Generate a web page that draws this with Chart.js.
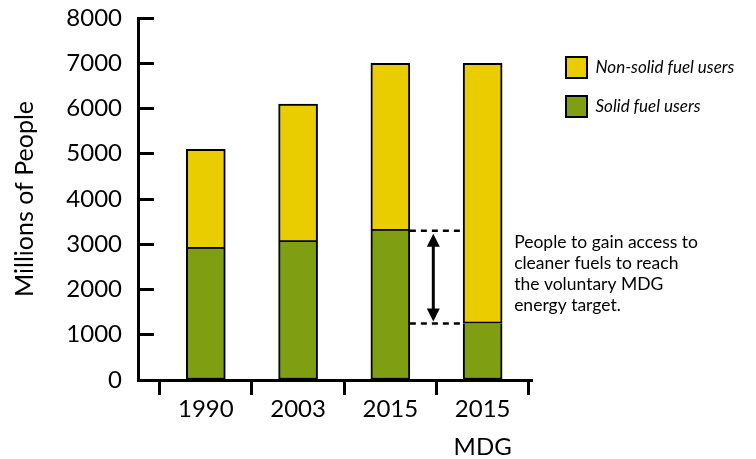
<!DOCTYPE html>
<html>
<head>
<meta charset="utf-8">
<script src="https://cdn.jsdelivr.net/npm/chart.js@4/dist/chart.umd.min.js"></script>
<style>
  html, body { margin: 0; padding: 0; background: #fff; }
  #wrap { width: 756px; height: 459px; }
</style>
</head>
<body>
<div id="wrap"><canvas id="c" width="756" height="459"></canvas></div>
<script>
// ---- data ----
const categories = [['1990'], ['2003'], ['2015'], ['2015', 'MDG']];
const solidFuel = [2900, 3050, 3300, 1250];
const nonSolidFuel = [2200, 3050, 3700, 5750];
const seriesNames = ['Solid fuel users', 'Non-solid fuel users'];
const yTicks = [0, 1000, 2000, 3000, 4000, 5000, 6000, 7000, 8000];
const yTitle = 'Millions of People';
const noteLines = ['People to gain access to', 'cleaner fuels to reach', 'the voluntary MDG', 'energy target.'];

const FONT = 'Lato, "Open Sans", sans-serif';
const GREEN = '#7F9E12';
const YELLOW = '#E9CD00';
const LEGEND_W = 208;

const legendSizer = {
  id: 'legendSizer',
  beforeLayout(chart) {
    const lg = chart.legend;
    if (lg && !lg.__sized) {
      const orig = lg.fit;
      lg.fit = function () {
        this.maxWidth = Math.max(this.maxWidth || 0, 400);
        orig.call(this);
        this.width = LEGEND_W;
      };
      lg.__sized = true;
    }
  }
};

const gapNote = {
  id: 'gapNote',
  afterDatasetsDraw(chart) {
    const ctx = chart.ctx;
    const y = chart.scales.y;
    const meta = chart.getDatasetMeta(0);
    const b2 = meta.data[2], b3 = meta.data[3];
    const ya = y.getPixelForValue(solidFuel[2]);
    const yb = y.getPixelForValue(solidFuel[3]);
    const xa = b2.x + b2.width / 2;
    const xb = b3.x - b3.width / 2;
    ctx.save();
    ctx.strokeStyle = '#000';
    ctx.lineWidth = 2.5;
    ctx.setLineDash([6, 5]);
    ctx.beginPath();
    ctx.moveTo(xa, ya); ctx.lineTo(xb, ya);
    ctx.moveTo(xa, yb); ctx.lineTo(xb, yb);
    ctx.stroke();
    ctx.setLineDash([]);
    // double arrow
    const ax = xa + (xb - xa) * 0.44;
    const t1 = ya + 3, t2 = yb - 2;
    const hl = 13, hw = 6.5;
    ctx.lineWidth = 3;
    ctx.beginPath();
    ctx.moveTo(ax, t1 + hl - 1); ctx.lineTo(ax, t2 - hl + 1);
    ctx.stroke();
    ctx.fillStyle = '#000';
    ctx.beginPath();
    ctx.moveTo(ax, t1); ctx.lineTo(ax - hw, t1 + hl); ctx.lineTo(ax + hw, t1 + hl); ctx.closePath();
    ctx.fill();
    ctx.beginPath();
    ctx.moveTo(ax, t2); ctx.lineTo(ax - hw, t2 - hl); ctx.lineTo(ax + hw, t2 - hl); ctx.closePath();
    ctx.fill();
    // note text
    ctx.font = '17.5px ' + FONT;
    ctx.textAlign = 'left';
    ctx.textBaseline = 'alphabetic';
    const tx = b3.x + b3.width / 2 + 12;
    const mid = (ya + yb) / 2;
    const step = 21;
    noteLines.forEach((s, i) => {
      ctx.fillText(s, tx, mid + 2.5 + (i - (noteLines.length - 1) / 2) * step);
    });
    ctx.restore();
  }
};

new Chart(document.getElementById('c'), {
  type: 'bar',
  data: {
    datasets: [
      {
        label: seriesNames[0],
        data: solidFuel.map((v, i) => ({ x: i, y: v })),
        backgroundColor: GREEN,
        borderColor: '#000',
        borderWidth: 2,
        borderSkipped: 'top',
        barThickness: 39
      },
      {
        label: seriesNames[1],
        data: nonSolidFuel.map((v, i) => ({ x: i, y: v })),
        backgroundColor: YELLOW,
        borderColor: '#000',
        borderWidth: 2,
        borderSkipped: false,
        barThickness: 39
      }
    ]
  },
  options: {
    responsive: false,
    animation: false,
    devicePixelRatio: 1,
    layout: { padding: { top: 18, left: 0, right: 0, bottom: 0 } },
    plugins: {
      tooltip: { enabled: false },
      legend: {
        position: 'right',
        align: 'start',
        reverse: true,
        title: { display: true, text: '', font: { size: 10, lineHeight: 1 }, padding: { top: 11, bottom: 0 } },
        labels: {
          boxWidth: 21,
          boxHeight: 21,
          padding: 18,
          color: '#000',
          font: { family: FONT, size: 17, style: 'italic' }
        }
      }
    },
    scales: {
      x: {
        type: 'linear',
        min: -0.735,
        max: 3.535,
        offset: false,
        stacked: true,
        afterFit: s => { s.height = 79; s.paddingLeft = 0; s.paddingRight = 0; s.paddingTop = 0; s.paddingBottom = 0; },
        afterBuildTicks: s => {
          const t = [];
          for (let i = 0; i < categories.length; i++) { t.push({ value: i - 0.5 }); t.push({ value: i }); }
          t.push({ value: categories.length - 0.5 });
          s.ticks = t;
        },
        border: { display: true, color: '#000', width: 3 },
        grid: {
          display: true,
          offset: false,
          drawOnChartArea: false,
          drawTicks: true,
          tickLength: 15,
          tickWidth: 3,
          tickColor: c => (Number.isInteger(c.tick && c.tick.value) ? 'rgba(0,0,0,0)' : '#000')
        },
        ticks: {
          autoSkip: false,
          maxRotation: 0,
          padding: -4,
          color: '#000',
          font: { family: FONT, size: 24, lineHeight: 1.55 },
          callback: v => (Number.isInteger(v) && categories[v] ? categories[v] : '')
        }
      },
      y: {
        stacked: true,
        min: 0,
        max: 8000,
        afterFit: s => { s.width = 138; s.paddingTop = 0; s.paddingBottom = 0; s.paddingLeft = 0; s.paddingRight = 0; },
        afterBuildTicks: s => { s.ticks = yTicks.map(v => ({ value: v })); },
        border: { display: true, color: '#000', width: 3 },
        grid: {
          display: true,
          drawOnChartArea: false,
          drawTicks: true,
          tickLength: -16,
          tickWidth: 3,
          tickColor: '#000'
        },
        ticks: {
          padding: 32,
          color: '#000',
          font: { family: FONT, size: 24 },
          callback: v => String(v)
        },
        title: {
          display: true,
          text: yTitle,
          color: '#000',
          font: { family: FONT, size: 25 },
          padding: { top: 10, bottom: 0 }
        }
      },
      ySpacer: {
        type: 'linear',
        position: 'right',
        display: true,
        afterFit: s => { s.width = 16; s.paddingTop = 0; s.paddingBottom = 0; },
        grid: { display: false },
        border: { display: false },
        ticks: { display: false }
      }
    }
  },
  plugins: [legendSizer, gapNote]
});
</script>
</body>
</html>
